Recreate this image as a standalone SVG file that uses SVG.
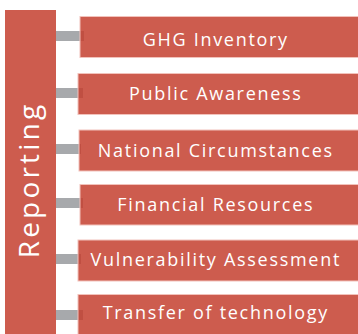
<svg xmlns="http://www.w3.org/2000/svg" width="358" height="334" viewBox="0 0 358 334">
<style>
.box{fill:#C43F2F;fill-opacity:0.85;stroke:#F2C2BB;stroke-width:1}
.conn{fill:#A7A9AC}
.lbl{font-family:"Open Sans","Liberation Sans",sans-serif;font-size:18px;fill:#FFFFFF;letter-spacing:1.7px;text-anchor:middle}
.main{font-family:"Open Sans","Liberation Sans",sans-serif;font-size:28px;fill:#FFFFFF;letter-spacing:3.2px;text-anchor:middle}
</style>
<rect width="358" height="334" fill="#FFFFFF"/>
<g id="connectors">
<rect class="conn" x="56" y="31" width="28" height="10"/>
<rect class="conn" x="56" y="88" width="27" height="10"/>
<rect class="conn" x="56" y="144" width="25" height="10"/>
<rect class="conn" x="56" y="198" width="27" height="10"/>
<rect class="conn" x="56" y="254" width="25" height="10"/>
<rect class="conn" x="56" y="310" width="27" height="10"/>
</g>
<g id="reporting">
<rect x="5" y="10" width="51" height="330" fill="#CD5C4E"/>
<text class="main" transform="translate(38.5,180) rotate(-90)">Reporting</text>
</g>
<g id="n1">
<rect class="box" x="80" y="16.5" width="280" height="41"/>
<text class="lbl" x="215.8" y="46">GHG Inventory</text>
</g>
<g id="n2">
<rect class="box" x="78" y="73.5" width="282" height="41"/>
<text class="lbl" x="215.8" y="100">Public Awareness</text>
</g>
<g id="n3">
<rect class="box" x="79" y="130" width="281" height="41"/>
<text class="lbl" x="215.8" y="157">National Circumstances</text>
</g>
<g id="n4">
<rect class="box" x="80" y="184.5" width="280" height="40.5"/>
<text class="lbl" x="215.8" y="211">Financial Resources</text>
</g>
<g id="n5">
<rect class="box" x="78" y="240" width="282" height="41"/>
<text class="lbl" x="215.8" y="266">Vulnerability Assessment</text>
</g>
<g id="n6">
<rect class="box" x="78" y="294.5" width="282" height="41"/>
<text class="lbl" x="215.8" y="319">Transfer of technology</text>
</g>
</svg>
